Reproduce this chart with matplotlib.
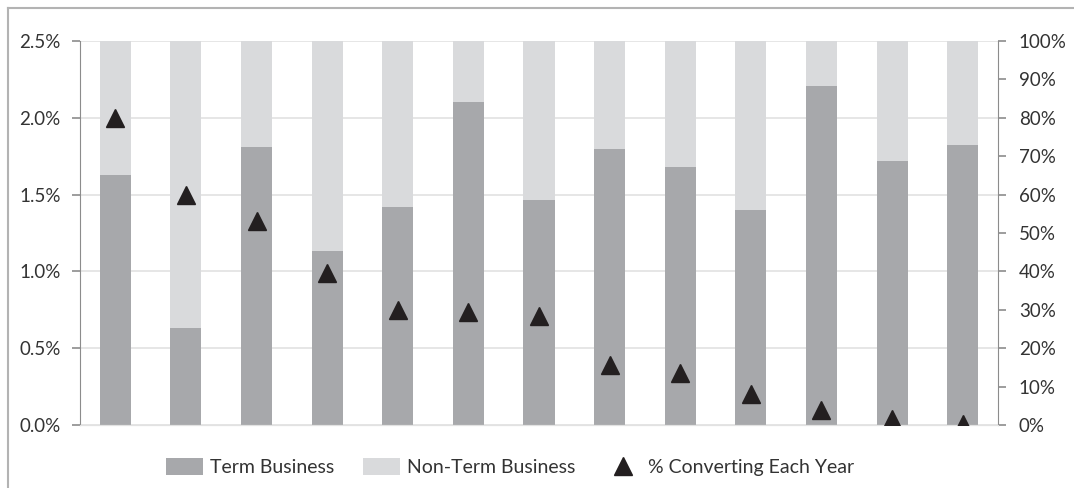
import matplotlib.pyplot as plt
from matplotlib.lines import Line2D
from matplotlib.ticker import MultipleLocator, FuncFormatter
import numpy as np

''' Format plots'''
plt.rcParams['font.family'] = ['Lato', 'DejaVu Sans']
plt.rcParams['font.size'] = 12
plt.rcParams['text.color'] = '#333333'
plt.rcParams['xtick.color'] = '#8c8c8c'
plt.rcParams['ytick.color'] = '#8c8c8c'
plt.rcParams['xtick.labelcolor'] = '#333333'
plt.rcParams['ytick.labelcolor'] = '#333333'

# data (left axis in %, right axis in %)
years = np.arange(13)
term_business = [1.63, 0.63, 1.81, 1.13, 1.42, 2.10, 1.465, 1.795, 1.68, 1.40, 2.21, 1.72, 1.82]
bar_total = 2.5
non_term_business = [bar_total - t for t in term_business]
pct_converting = [80, 60, 53, 39.5, 30, 29.5, 28.5, 15.5, 13.5, 8, 4, 1.5, 0.3]

c_term = '#a7a8ab'
c_nonterm = '#d9dadc'
c_tri = '#231f20'
c_axis = '#8c8c8c'
c_grid = '#e2e2e2'

fig = plt.figure(figsize=(10.74, 4.88), dpi=100)
ax = fig.add_axes([80/1074, 63/488, 918/1074, 384/488])
ax2 = ax.twinx()

ax.bar(years, term_business, width=0.44, color=c_term, label='Term Business', zorder=2)
ax.bar(years, non_term_business, width=0.44, bottom=term_business, color=c_nonterm,
       label='Non-Term Business', zorder=2)
ax2.plot(years, pct_converting, linestyle='none', marker='^', markersize=13,
         color=c_tri, label='% Converting Each Year', zorder=3)

ax.set_xlim(-0.5, 12.5)
ax.set_ylim(0, 2.5)
ax2.set_ylim(0, 100)

ax.yaxis.set_major_locator(MultipleLocator(0.5))
ax.yaxis.set_major_formatter(FuncFormatter(lambda v, p: f'{v:.1f}%'))
ax2.yaxis.set_major_locator(MultipleLocator(10))
ax2.yaxis.set_major_formatter(FuncFormatter(lambda v, p: f'{v:.0f}%'))

ax.grid(axis='y', color=c_grid, linewidth=1.2, zorder=0)
ax.set_axisbelow(True)
ax.set_xticks([])

for a in (ax, ax2):
    a.spines['top'].set_visible(False)
    a.spines['bottom'].set_color(c_grid)
    a.spines['left'].set_color(c_axis)
    a.spines['right'].set_color(c_axis)
    a.tick_params(axis='y', length=6, width=1.2, labelsize=13.5)
ax.spines['right'].set_visible(False)
ax2.spines['left'].set_visible(False)
ax.tick_params(axis='y', pad=8)
ax2.tick_params(axis='y', pad=9)

# outer frame (top and left edges)
fig.add_artist(Line2D([8/1074, 8/1074], [0, 1 - 8/488], transform=fig.transFigure,
                      color='#b3b3b3', linewidth=1.5))
fig.add_artist(Line2D([8/1074, 1], [1 - 8/488, 1 - 8/488], transform=fig.transFigure,
                      color='#b3b3b3', linewidth=1.5))

h1, l1 = ax.get_legend_handles_labels()
h2, l2 = ax2.get_legend_handles_labels()
fig.legend(h1 + h2, l1 + l2, loc='center', bbox_to_anchor=(510/1074, 21/488), ncol=3,
           frameon=False, fontsize=14, handlelength=1.9, handleheight=1.0,
           handletextpad=0.35, columnspacing=1.5)

plt.savefig('out.png', dpi=100)
